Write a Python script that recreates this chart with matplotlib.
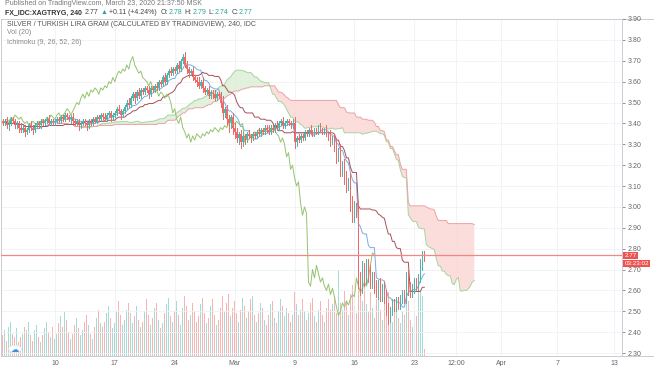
import matplotlib
matplotlib.use("Agg")
import matplotlib.pyplot as plt
import matplotlib.transforms as mtransforms
from matplotlib.lines import Line2D
from matplotlib.patches import Circle
import numpy as np
import pandas as pd

# 240-minute candles, Feb 5 -> Mar 23 2020 (closes)
close = [
    3.40, 3.41, 3.39, 3.40, 3.42, 3.41, 3.39, 3.40, 3.38, 3.37,
    3.38, 3.36, 3.37, 3.39, 3.38, 3.37, 3.39, 3.40, 3.39, 3.41,
    3.40, 3.41, 3.42, 3.40, 3.41, 3.40, 3.41, 3.42, 3.41, 3.43,
    3.42, 3.44, 3.43, 3.42, 3.43, 3.41, 3.40, 3.41, 3.39, 3.40,
    3.41, 3.40, 3.39, 3.41, 3.40, 3.42, 3.41, 3.43, 3.42, 3.44,
    3.43, 3.42, 3.44, 3.45, 3.43, 3.44, 3.45, 3.47, 3.46, 3.44,
    3.46, 3.48, 3.50, 3.49, 3.52, 3.54, 3.52, 3.55, 3.53, 3.56,
    3.55, 3.57, 3.56, 3.54, 3.57, 3.56, 3.58, 3.57, 3.60, 3.59,
    3.62, 3.60, 3.63, 3.65, 3.64, 3.66, 3.65, 3.68, 3.66, 3.70,
    3.72, 3.68, 3.66, 3.64, 3.65, 3.62, 3.61, 3.60, 3.58, 3.60,
    3.57, 3.55, 3.56, 3.53, 3.55, 3.54, 3.52, 3.54, 3.53, 3.50,
    3.45, 3.47, 3.42, 3.40, 3.43, 3.38, 3.36, 3.33, 3.35, 3.31,
    3.34, 3.32, 3.35, 3.34, 3.33, 3.35, 3.34, 3.36, 3.35, 3.37,
    3.36, 3.38, 3.37, 3.36, 3.38, 3.37, 3.39, 3.38, 3.40, 3.41,
    3.39, 3.40, 3.41, 3.40, 3.39, 3.40, 3.31, 3.33, 3.32, 3.34,
    3.33, 3.36, 3.35, 3.37, 3.36, 3.35, 3.37, 3.36, 3.38, 3.37,
    3.36, 3.37, 3.35, 3.34, 3.31, 3.33, 3.30, 3.24, 3.26, 3.18,
    3.20, 3.14, 3.10, 3.12, 3.02, 2.96, 3.00, 2.97, 2.64, 2.62,
    2.70, 2.66, 2.72, 2.68, 2.64, 2.66, 2.62, 2.60, 2.63, 2.58,
    2.61, 2.57, 2.52, 2.48, 2.50, 2.54, 2.52, 2.55, 2.53, 2.56,
    2.58, 2.57, 2.66, 2.62, 2.59, 2.61, 2.64, 2.62, 2.66, 2.72,
    2.78, 2.77,
]
first_open = 3.41

# wick lengths in cents above / below the body
up_wick = [
    1, 1, 2, 1, 1, 1, 1, 1, 1, 2,
    1, 1, 1, 1, 2, 1, 1, 1, 1, 1,
    1, 1, 1, 2, 1, 1, 1, 1, 1, 1,
    1, 1, 1, 1, 1, 2, 1, 1, 1, 1,
    1, 1, 1, 1, 1, 1, 1, 1, 1, 1,
    1, 2, 1, 1, 1, 1, 1, 1, 2, 1,
    1, 1, 1, 2, 1, 1, 1, 1, 2, 1,
    1, 1, 1, 2, 1, 1, 1, 2, 1, 1,
    1, 2, 1, 1, 2, 1, 1, 1, 2, 1,
    1, 2, 2, 1, 1, 2, 1, 1, 2, 1,
    2, 1, 1, 2, 1, 1, 2, 1, 1, 2,
    3, 1, 2, 2, 1, 2, 2, 2, 1, 2,
    2, 1, 1, 2, 1, 1, 1, 1, 2, 1,
    1, 1, 1, 2, 1, 1, 1, 2, 1, 1,
    2, 1, 1, 1, 1, 2, 3, 1, 2, 1,
    1, 1, 1, 1, 2, 1, 1, 1, 1, 2,
    1, 1, 2, 1, 3, 1, 2, 3, 2, 4,
    2, 3, 3, 2, 4, 3, 3, 2, 6, 5,
    4, 3, 3, 3, 4, 3, 3, 3, 2, 3,
    2, 3, 3, 2, 2, 2, 2, 2, 2, 2,
    2, 2, 3, 4, 2, 2, 2, 2, 2, 3,
    1, 1,
]
down_wick = [
    1, 1, 1, 2, 1, 1, 1, 1, 2, 1,
    1, 2, 1, 1, 1, 2, 1, 1, 1, 1,
    1, 1, 1, 1, 1, 1, 1, 1, 1, 1,
    1, 1, 1, 1, 2, 1, 1, 1, 2, 1,
    1, 1, 2, 1, 1, 1, 1, 1, 1, 1,
    1, 1, 1, 1, 2, 1, 1, 1, 1, 2,
    1, 1, 1, 1, 1, 1, 2, 1, 1, 1,
    1, 1, 1, 2, 1, 1, 1, 1, 1, 1,
    1, 1, 1, 1, 1, 1, 1, 1, 1, 1,
    1, 1, 2, 2, 1, 1, 1, 2, 1, 1,
    2, 1, 1, 1, 1, 2, 1, 1, 1, 2,
    3, 2, 3, 4, 2, 3, 3, 2, 3, 3,
    2, 2, 1, 1, 2, 1, 1, 1, 1, 1,
    1, 1, 1, 1, 1, 1, 1, 1, 1, 1,
    1, 1, 1, 1, 1, 1, 3, 2, 1, 1,
    1, 1, 1, 1, 1, 1, 1, 1, 1, 1,
    1, 1, 1, 2, 2, 1, 3, 3, 2, 3,
    3, 3, 3, 2, 4, 3, 3, 2, 3, 4,
    3, 4, 3, 4, 3, 3, 3, 3, 4, 3,
    3, 3, 4, 4, 3, 2, 2, 2, 2, 2,
    2, 3, 3, 4, 2, 2, 2, 2, 2, 2,
    2, 3,
]
volume = [
    24, 30, 18, 34, 40, 26, 22, 32, 16, 22,
    26, 34, 30, 40, 24, 18, 30, 36, 22, 16,
    24, 32, 40, 28, 22, 34, 20, 26, 38, 46,
    34, 52, 42, 28, 20, 26, 36, 44, 32, 24,
    30, 40, 48, 36, 26, 20, 34, 44, 54, 38,
    34, 40, 50, 58, 44, 32, 38, 52, 64, 48,
    36, 42, 54, 62, 50, 38, 46, 58, 42, 34,
    40, 52, 66, 48, 36, 44, 56, 62, 42, 32,
    38, 50, 60, 68, 46, 40, 52, 64, 48, 36,
    56, 70, 58, 42, 48, 62, 52, 40, 46, 60,
    68, 50, 38, 44, 58, 66, 48, 36, 42, 56,
    70, 52, 62, 72, 46, 56, 64, 50, 40, 54,
    68, 58, 44, 52, 66, 70, 48, 40, 50, 62,
    56, 42, 36, 48, 60, 64, 44, 38, 52, 66,
    58, 46, 56, 50, 40, 48, 74, 60, 48, 54,
    66, 52, 42, 50, 62, 68, 46, 40, 54, 64,
    48, 40, 56, 66, 54, 60, 70, 50, 100, 62,
    54, 76, 64, 48, 72, 82, 58, 50, 92, 76,
    64, 86, 60, 52, 74, 56, 44, 66, 78, 54,
    42, 60, 68, 74, 50, 40, 56, 62, 44, 38,
    52, 48, 66, 64, 42, 34, 50, 46, 74, 76,
    70, 8,
]

date_ticks = [26, 56, 86, 116, 146, 176, 206, 227, 249.5, 277.5, 306]
date_labels = ["10", "17", "24", "Mar", "9", "16", "23", "12:00", "Apr", "7", "13"]
price_ticks = [2.3, 2.4, 2.5, 2.6, 2.7, 2.8, 2.9, 3.0, 3.1, 3.2, 3.3, 3.4, 3.5, 3.6, 3.7, 3.8, 3.9]
last_price = 2.77

FONTS = ["Liberation Sans Narrow", "Liberation Sans", "DejaVu Sans"]
plt.rcParams["font.family"] = FONTS

n = min(len(close), len(up_wick), len(down_wick), len(volume))
c = np.array(close[:n])
o = np.concatenate([[first_open], c[:-1]])
h = np.maximum(o, c) + np.array(up_wick[:n]) / 100
l = np.minimum(o, c) - np.array(down_wick[:n]) / 100
v = np.array(volume[:n], dtype=float)
idx = np.arange(n)

# Ichimoku (9, 26, 52, 26)
hs, ls = pd.Series(h), pd.Series(l)
def mid(p):
    return ((hs.rolling(p, min_periods=1).max() + ls.rolling(p, min_periods=1).min()) / 2).values
tenkan = mid(9)
kijun = mid(26)
span_a = (tenkan + kijun) / 2
span_b = mid(52)
shift = 25

W, H = 654, 366
fig = plt.figure(figsize=(W / 100, H / 100), dpi=100)
fig.patch.set_facecolor("white")

def fx(px):
    return px / W

def fy(py):
    return 1 - py / H

rect = [fx(1), fy(356), fx(622) - fx(1), fy(19) - fy(356)]
axv = fig.add_axes(rect)
ax = fig.add_axes(rect, sharex=axv)
ax.set_zorder(2)
ax.patch.set_visible(False)

xlim = (-1.0, 310.0)
ylim = (3.90 - (356 - 18) / 209.4, 3.90 - (19 - 18) / 209.4)

up_col, dn_col = "#4fb5a8", "#f06966"
up = c >= o
cols = [up_col if u else dn_col for u in up]
vcols = ["#a6dad4" if u else "#f8b4b2" for u in up]

# volume
axv.bar(idx, v, width=0.5, color=vcols, linewidth=0, antialiased=False)
axv.set_ylim(0, 100 * 337 / 86)
axv.axis("off")

# grid
for t in date_ticks:
    ax.axvline(t, color="#eff1f5", lw=0.6, zorder=0)
for p in price_ticks:
    ax.axhline(p, color="#eff1f5", lw=0.6, zorder=0)

# cloud, drawn shifted forward
xs = idx + shift
ax.fill_between(xs, span_a, span_b, where=span_a >= span_b, interpolate=True,
                color="#dcefd8", alpha=0.85, lw=0)
ax.fill_between(xs, span_a, span_b, where=span_a < span_b, interpolate=True,
                color="#fbd7d6", alpha=0.85, lw=0)
ax.plot(xs, span_a, color="#a9d39e", lw=0.7)
ax.plot(xs, span_b, color="#eba3a3", lw=0.7)

ax.plot(idx, tenkan, color="#74aee6", lw=0.7)
ax.plot(idx, kijun, color="#a8505a", lw=0.7)
ax.plot(idx - shift, c, color="#95c36e", lw=0.7)

# candles
ax.vlines(idx, l, h, colors=cols, lw=0.6, antialiased=False)
body_lo = np.minimum(o, c)
body_h = np.maximum(np.abs(c - o), 0.005)
ax.bar(idx, body_h, bottom=body_lo, width=0.55, color=cols, linewidth=0,
       antialiased=False)

# last price line
ax.axhline(last_price, color="#f28784", lw=0.9, zorder=3)

ax.set_xlim(*xlim)
ax.set_ylim(*ylim)
axv.set_xlim(*xlim)

ax.yaxis.tick_right()
ax.set_yticks(price_ticks)
ax.set_yticklabels([f"{p:.2f}" for p in price_ticks])
ax.tick_params(axis="y", length=2, width=0.5, pad=2, labelsize=5,
               colors="#666666")
ax.set_xticks(date_ticks)
ax.set_xticklabels(date_labels)
ax.tick_params(axis="x", length=0, pad=3, labelsize=5, colors="#666666")
for s in ax.spines.values():
    s.set_color("#c9ccd3")
    s.set_linewidth(0.7)

# pane borders running under the price scale
for yy in (19, 356):
    fig.add_artist(Line2D([fx(622), 1], [fy(yy), fy(yy)], color="#c9ccd3", lw=0.7))

# price label boxes
trans = mtransforms.blended_transform_factory(ax.transAxes, ax.transData)
ax.text(1.004, last_price - 0.002, "2.77", transform=trans, fontsize=4.6,
        color="white", va="center", ha="left",
        bbox=dict(boxstyle="square,pad=0.18", fc="#ef5350", ec="none"))
ax.text(1.004, last_price - 0.041, "03:23:02", transform=trans, fontsize=4.5,
        color="white", va="center", ha="left",
        bbox=dict(boxstyle="square,pad=0.18", fc="#ef5350", ec="none"))

# tradingview badge
fig.add_artist(Circle((fx(15), fy(349)), 6.5 / W, transform=fig.transFigure,
                      fc="white", ec="#dfe3ea", lw=0.5, zorder=5))
fig.text(fx(15), fy(349), "\u2601", fontsize=6, color="#3d8fe0", ha="center",
         va="center", family="DejaVu Sans", zorder=6)

# header
fig.text(fx(5), fy(3.5), "Published on TradingView.com, March 23, 2020 21:37:50 MSK",
         fontsize=5, color="#777777", va="center")

fig.canvas.draw()
renderer = fig.canvas.get_renderer()
hy = fy(13)
pieces = [("FX_IDC:XAGTRYG, 240", "#333333", "bold", 3),
          ("2.77", "#444444", "normal", 2), ("\u25b2", "#26a69a", "normal", 2),
          ("+0.11 (+4.24%)", "#444444", "normal", 3),
          ("O:", "#444444", "normal", 0.5), ("2.78", "#26a69a", "normal", 2.5),
          ("H:", "#444444", "normal", 0.5), ("2.79", "#26a69a", "normal", 2.5),
          ("L:", "#444444", "normal", 0.5), ("2.74", "#26a69a", "normal", 2.5),
          ("C:", "#444444", "normal", 0.5), ("2.77", "#26a69a", "normal", 2.5)]
cx = 5
for txt, col, wt, gap in pieces:
    t = fig.text(fx(cx), hy, txt, fontsize=5, color=col, weight=wt, va="center",
                 family=FONTS)
    bb = t.get_window_extent(renderer=renderer)
    cx = bb.x1 + gap

fig.text(fx(7), fy(24), "SILVER / TURKISH LIRA GRAM (CALCULATED BY TRADINGVIEW), 240, IDC",
         fontsize=5, color="#555555", va="center")
fig.text(fx(7), fy(33), "Vol (20)", fontsize=5, color="#888888", va="center")
fig.text(fx(7), fy(42), "Ichimoku (9, 26, 52, 26)", fontsize=5, color="#888888",
         va="center")

fig.savefig("out.png", dpi=100, facecolor="white")
